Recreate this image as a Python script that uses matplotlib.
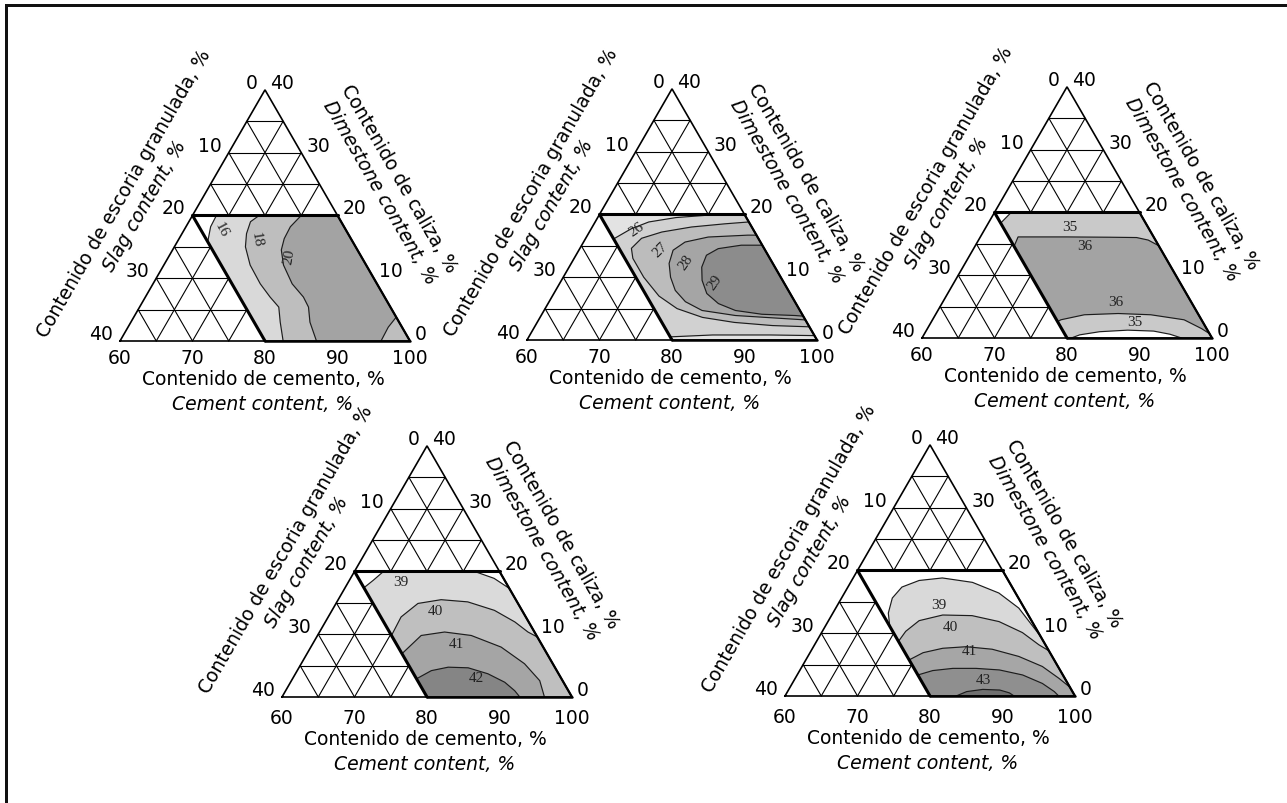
import numpy as np
import matplotlib
matplotlib.use("Agg")
import matplotlib.pyplot as plt
from matplotlib.patches import Polygon
from matplotlib.lines import Line2D

# ---------------- axis values ----------------
CEMENT_TICKS = [60, 70, 80, 90, 100]
SLAG_TICKS = [0, 10, 20, 30, 40]
LIME_TICKS = [0, 10, 20, 30, 40]
GRID_HIGH = [25, 30, 35]
GRID_LOW = [5, 10, 15]
GRID_CEM = [65, 70, 75]

CEMENT_LABEL = "Contenido de cemento, %"
CEMENT_LABEL_EN = "Cement content, %"
SLAG_LABEL = "Contenido de escoria granulada, %"
SLAG_LABEL_EN = "Slag content, %"
LIME_LABEL = "Contenido de caliza, %"
LIME_LABEL_EN = "Dimestone content, %"

# ---------------- contour lines (slag %, limestone %) ----------------
# panel 1
P1_16_S = [16.7, 18.4, 20.0]
P1_16_L = [20.0, 18.2, 15.8]
P1_18_S = [10.8, 12.5, 14.0, 15.2, 16.0, 16.1, 15.8, 15.4, 16.4, 17.5]
P1_18_L = [20.0, 19.0, 17.1, 15.0, 12.1, 9.1, 7.0, 5.4, 3.0, 0.0]
P1_20_S = [5.0, 7.4, 9.2, 10.5, 11.4, 11.7, 11.2, 11.3, 12.3, 12.9]
P1_20_L = [20.0, 18.2, 16.3, 14.5, 12.1, 9.1, 7.0, 5.4, 3.0, 0.0]
P1_20B_S = [4.0, 1.9, 0.0]
P1_20B_L = [0.0, 2.2, 3.8]
P1_LABELS = ["16", "18", "20"]
P1_LAB_S = [17.1, 13.0, 9.9]
P1_LAB_L = [17.9, 16.3, 13.6]

# panel 2
P2_26A_S = [1.5, 4.9, 9.7, 13.8, 16.8, 18.6, 20.0]
P2_26A_L = [20.0, 19.9, 19.5, 18.8, 17.7, 16.8, 16.1]
P2_26B_S = [20.0, 14.0, 6.0, 0.0]
P2_26B_L = [0.5, 0.8, 0.8, 0.7]
P2_27_S = [0.0, 3.5, 8.3, 12.8, 16.1, 18.3, 18.9, 18.9, 18.3, 16.8, 14.0, 10.0, 5.0, 0.0]
P2_27_L = [18.8, 18.5, 18.0, 17.2, 16.2, 14.6, 13.0, 10.0, 7.0, 5.0, 3.6, 2.8, 2.3, 2.1]
P2_28_S = [0.0, 1.2, 6.8, 10.4, 12.7, 14.3, 15.2, 15.6, 15.1, 13.5, 9.3, 4.0, 0.0]
P2_28_L = [16.7, 16.7, 16.4, 15.6, 14.3, 12.2, 10.0, 7.9, 6.1, 4.7, 3.9, 3.5, 3.2]
P2_29_S = [0.0, 2.9, 6.35, 8.5, 10.1, 11.1, 11.5, 10.7, 8.9, 5.55, 1.1, 0.0]
P2_29_L = [15.1, 15.1, 14.55, 13.5, 11.6, 9.5, 7.4, 5.8, 4.7, 4.1, 3.9, 3.8]
P2_LABELS = ["26", "27", "28", "29"]
P2_LAB_S = [16.0, 14.3, 11.9, 9.5]
P2_LAB_L = [17.7, 14.5, 12.4, 9.2]

# panel 3
P3_35A_S = [17.7, 20.0]
P3_35A_L = [20.0, 18.3]
P3_35B_S = [19.4, 18.0, 15.0, 11.0, 7.5, 5.5, 4.2]
P3_35B_L = [0.0, 0.5, 1.0, 1.25, 1.1, 0.6, 0.0]
P3_36A_S = [20.0, 18.7, 12.0, 6.0, 2.4, 1.0, 0.0]
P3_36A_L = [14.6, 16.1, 16.1, 16.05, 16.0, 15.6, 14.7]
P3_36B_S = [0.0, 0.7, 2.4, 6.6, 11.0, 15.75, 19.4, 20.0]
P3_36B_L = [0.7, 1.5, 2.9, 3.7, 3.9, 3.7, 2.9, 2.6]
P3_LABELS = ["35", "36", "36", "35"]
P3_LAB_S = [10.8, 10.2, 10.3, 9.4]
P3_LAB_L = [17.7, 14.8, 5.8, 2.6]

# panel 4
P4_39A_S = [16.0, 18.1, 20.0]
P4_39A_L = [20.0, 18.6, 17.4]
P4_39B_S = [3.45, 1.3, 0.0]
P4_39B_L = [20.0, 18.9, 17.3]
P4_40_S = [20.0, 17.2, 13.8, 10.3, 6.8, 3.8, 1.9, 0.9, 0.0]
P4_40_L = [9.8, 12.75, 14.9, 15.5, 15.15, 13.8, 11.95, 10.35, 9.55]
P4_41_S = [20.0, 15.9, 12.4, 9.0, 5.8, 3.9, 3.15, 3.8]
P4_41_L = [6.9, 9.8, 10.35, 9.8, 7.95, 5.3, 2.6, 0.0]
P4_42_S = [20.0, 17.3, 14.7, 12.0, 9.75, 8.1, 7.4, 7.2]
P4_42_L = [2.9, 4.2, 4.75, 4.65, 3.7, 2.35, 1.0, 0.0]
P4_LABELS = ["39", "40", "41", "42"]
P4_LAB_S = [14.4, 12.0, 11.7, 11.6]
P4_LAB_L = [18.35, 13.8, 8.5, 3.15]

# panel 5
P5_39_S = [20.0, 19.15, 17.4, 15.2, 12.3, 8.9, 5.1, 2.3, 0.75, 0.25, 0.0]
P5_39_L = [11.1, 13.2, 15.6, 17.35, 18.4, 18.8, 18.1, 16.4, 14.0, 11.0, 9.5]
P5_40_S = [20.0, 18.2, 15.5, 11.8, 7.8, 4.55, 2.2, 0.9, 0.0]
P5_40_L = [8.7, 10.3, 12.0, 12.9, 12.8, 11.85, 10.1, 8.15, 7.2]
P5_41_S = [20.0, 17.5, 14.45, 11.1, 7.7, 4.6, 2.15, 0.8, 0.0]
P5_41_L = [5.75, 6.9, 7.6, 7.85, 7.45, 6.3, 4.7, 2.8, 1.4]
P5_42_S = [20.0, 17.6, 14.65, 11.45, 8.35, 5.55, 3.5, 2.5, 2.25]
P5_42_L = [3.35, 4.05, 4.4, 4.4, 4.15, 3.35, 2.0, 0.7, 0.0]
P5_43_S = [16.4, 14.6, 12.2, 9.9, 8.8, 8.4]
P5_43_L = [0.0, 0.7, 1.05, 0.95, 0.5, 0.0]
P5_LABELS = ["39", "40", "41", "43"]
P5_LAB_S = [11.5, 11.6, 11.0, 11.3]
P5_LAB_L = [14.5, 11.05, 7.2, 2.55]

# ---------------- figure ----------------
W, H, DPI = 1287, 804, 100
PX = 72.0 / DPI
TRI_W = 290
TRI_H = TRI_W * np.sqrt(3) / 2
SANS = "DejaVu Sans"
SERIF = "Liberation Serif"
FS = 13.5

CORNERS = {"TL": (20, 20), "TR": (0, 20), "BR": (0, 0), "BL": (20, 0)}


def tern(s, l):
    s = np.asarray(s, float)
    l = np.asarray(l, float)
    return (40 - s - l / 2) / 40, (l / 40) * np.sqrt(3) / 2


def build(pieces):
    ss, ll = [], []
    for p in pieces:
        if isinstance(p, str):
            ss.append(CORNERS[p][0]); ll.append(CORNERS[p][1])
        else:
            ss.extend(p[0]); ll.extend(p[1])
    x, y = tern(ss, ll)
    return np.column_stack([x, y])


panels = [
    dict(origin=(120, 342), row=0, base="#d9d9d9",
         fills=[("white", [(P1_16_S, P1_16_L), "TL"]),
                ("#bebebe", [(P1_18_S, P1_18_L), "BR", "TR"]),
                ("#a3a3a3", [(P1_20_S, P1_20_L), "BR", "TR"]),
                ("#bebebe", [(P1_20B_S, P1_20B_L), "BR"])],
         lines=[(P1_16_S, P1_16_L), (P1_18_S, P1_18_L), (P1_20_S, P1_20_L), (P1_20B_S, P1_20B_L)],
         labels=(P1_LABELS, P1_LAB_S, P1_LAB_L), rots=[-62, -80, 80]),
    dict(origin=(527, 341), row=0, base="#e3e3e3",
         fills=[("#d1d1d1", [(P2_26A_S, P2_26A_L), (P2_26B_S, P2_26B_L), "TR"]),
                ("#bcbcbc", [(P2_27_S, P2_27_L)]),
                ("#a5a5a5", [(P2_28_S, P2_28_L)]),
                ("#8c8c8c", [(P2_29_S, P2_29_L)])],
         lines=[(P2_26A_S, P2_26A_L), (P2_26B_S, P2_26B_L), (P2_27_S, P2_27_L),
                (P2_28_S, P2_28_L), (P2_29_S, P2_29_L)],
         labels=(P2_LABELS, P2_LAB_S, P2_LAB_L), rots=[35, 45, 55, 55]),
    dict(origin=(922, 339), row=0, base="white",
         fills=[("#c9c9c9", [(P3_35A_S, P3_35A_L), "BL", (P3_35B_S, P3_35B_L), "BR", "TR"]),
                ("#a3a3a3", [(P3_36A_S, P3_36A_L), (P3_36B_S, P3_36B_L)])],
         lines=[(P3_35A_S, P3_35A_L), (P3_35B_S, P3_35B_L), (P3_36A_S, P3_36A_L), (P3_36B_S, P3_36B_L)],
         labels=(P3_LABELS, P3_LAB_S, P3_LAB_L), rots=[0, 0, 0, 0]),
    dict(origin=(282, 698), row=1, base="#dadada",
         fills=[("white", [(P4_39A_S, P4_39A_L), "TL"]),
                ("white", [(P4_39B_S, P4_39B_L), "TR"]),
                ("#bfbfbf", [(P4_40_S, P4_40_L), "BR", "BL"]),
                ("#a5a5a5", [(P4_41_S, P4_41_L), "BL"]),
                ("#858585", [(P4_42_S, P4_42_L), "BL"])],
         lines=[(P4_39A_S, P4_39A_L), (P4_39B_S, P4_39B_L), (P4_40_S, P4_40_L),
                (P4_41_S, P4_41_L), (P4_42_S, P4_42_L)],
         labels=(P4_LABELS, P4_LAB_S, P4_LAB_L), rots=[0, 0, 0, 0]),
    dict(origin=(785, 697), row=1, base="white",
         fills=[("#d9d9d9", [(P5_39_S, P5_39_L), "BR", "BL"]),
                ("#bfbfbf", [(P5_40_S, P5_40_L), "BR", "BL"]),
                ("#a6a6a6", [(P5_41_S, P5_41_L), "BR", "BL"]),
                ("#8f8f8f", [(P5_42_S, P5_42_L), "BL"]),
                ("#707070", [(P5_43_S, P5_43_L)])],
         lines=[(P5_39_S, P5_39_L), (P5_40_S, P5_40_L), (P5_41_S, P5_41_L),
                (P5_42_S, P5_42_L), (P5_43_S, P5_43_L)],
         labels=(P5_LABELS, P5_LAB_S, P5_LAB_L), rots=[0, 0, 0, 0]),
]

ROW_OFFS = [dict(tick=17, lab=38, en=63), dict(tick=20.5, lab=42, en=67)]

fig = plt.figure(figsize=(W / DPI, H / DPI), dpi=DPI)
fig.patch.set_facecolor("white")


def seg(ax, s1, l1, s2, l2, lw, color="black", z=5):
    x, y = tern([s1, s2], [l1, l2])
    ax.plot(x, y, color=color, lw=lw, solid_capstyle="round", zorder=z, clip_on=False)


def ann(ax, text, xy, dx, dy, **kw):
    ax.annotate(text, xy=xy, xytext=(dx * PX, dy * PX), textcoords="offset points",
                annotation_clip=False, **kw)


for p in panels:
    bx, by = p["origin"]
    ax = fig.add_axes([bx / W, 1 - by / H, TRI_W / W, TRI_H / H])
    ax.set_xlim(0, 1)
    ax.set_ylim(0, np.sqrt(3) / 2)
    ax.axis("off")

    # parallelogram base fill
    ax.add_patch(Polygon(build(["TL", "TR", "BR", "BL"]), closed=True,
                         facecolor=p["base"], edgecolor="none", zorder=1))
    for i, (col, pieces) in enumerate(p["fills"]):
        ax.add_patch(Polygon(build(pieces), closed=True, facecolor=col,
                             edgecolor="none", zorder=2 + i * 0.01))
    for (ss, ll) in p["lines"]:
        x, y = tern(ss, ll)
        ax.plot(x, y, color="#1c1c1c", lw=0.85, zorder=3, solid_joinstyle="round")

    # grid in white regions
    glw = 0.8
    for l in GRID_HIGH:
        seg(ax, 40 - l, l, 0, l, glw)
    for l in GRID_LOW:
        seg(ax, 40 - l, l, 20, l, glw)
    for s in GRID_HIGH:
        seg(ax, s, 0, s, 40 - s, glw)
    for s in GRID_LOW:
        seg(ax, s, 20, s, 40 - s, glw)
    for c in GRID_CEM:
        seg(ax, 80 - c, 20, 0, 100 - c, glw)
        seg(ax, 100 - c, 0, 20, 80 - c, glw)

    # outline of triangle
    x, y = tern([40, 0, 0, 40], [0, 0, 40, 0])
    ax.plot(x, y, color="black", lw=1.2, zorder=6, clip_on=False, solid_joinstyle="miter")
    # parallelogram boundaries
    seg(ax, 20, 20, 0, 20, 2.2, z=7)
    seg(ax, 20, 0, 20, 20, 2.2, z=7)
    seg(ax, 20, 0, 0, 0, 1.8, z=7)
    seg(ax, 0, 0, 0, 20, 1.6, z=7)

    # contour labels
    labs, ls, ll = p["labels"]
    for t, s_, l_, r in zip(labs, ls, ll, p["rots"]):
        x, y = tern(s_, l_)
        ax.text(x, y, t, fontsize=11, family=SERIF, color="#222222",
                ha="center", va="center", rotation=r, zorder=8)

    offs = ROW_OFFS[p["row"]]
    # base ticks (cement)
    for c in CEMENT_TICKS:
        ann(ax, str(c), tern(100 - c, 0), 0, -offs["tick"], ha="center", va="center",
            fontsize=FS, family=SANS)
    # left side ticks (slag)
    for s in SLAG_TICKS:
        ann(ax, str(s), tern(s, 40 - s), -7, 7.5, ha="right", va="center",
            fontsize=FS, family=SANS)
    # right side ticks (limestone)
    for l in LIME_TICKS:
        ann(ax, str(l), tern(0, l), 5, 7.5, ha="left", va="center",
            fontsize=FS, family=SANS)

    base_mid = tern(20, 0)
    ann(ax, CEMENT_LABEL, base_mid, -2, -offs["lab"], ha="center", va="center",
        fontsize=FS, family=SANS)
    ann(ax, CEMENT_LABEL_EN, base_mid, -2, -offs["en"], ha="center", va="center",
        fontsize=FS, family=SANS, style="italic")

    left_mid = tern(20, 20)
    ann(ax, SLAG_LABEL_EN, left_mid, -47.5, 10, ha="center", va="center",
        fontsize=FS, family=SANS, style="italic", rotation=60, rotation_mode="anchor")
    ann(ax, SLAG_LABEL, left_mid, -68, 23, ha="center", va="center",
        fontsize=FS, family=SANS, rotation=60, rotation_mode="anchor")

    right_mid = tern(0, 20)
    ann(ax, LIME_LABEL_EN, right_mid, 42, 23.5, ha="center", va="center",
        fontsize=FS, family=SANS, style="italic", rotation=-60, rotation_mode="anchor")
    ann(ax, LIME_LABEL, right_mid, 61, 38, ha="center", va="center",
        fontsize=FS, family=SANS, rotation=-60, rotation_mode="anchor")

# frame (left and top edges)
fx = 5.5 / W
fy = 1 - 5.5 / H
fig.add_artist(Line2D([fx, fx], [0, fy], color="#111111", lw=3 * PX * 1.0, transform=fig.transFigure))
fig.add_artist(Line2D([fx, 1], [fy, fy], color="#111111", lw=3 * PX * 1.0, transform=fig.transFigure))

fig.savefig("out.png", dpi=DPI, facecolor="white")
